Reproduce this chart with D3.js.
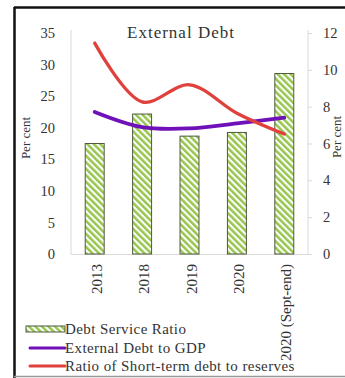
<!DOCTYPE html>
<html>
<head>
<meta charset="utf-8">
<script src="https://cdn.jsdelivr.net/npm/d3@7"></script>
<style>
  html, body { margin: 0; padding: 0; background: #fff; }
  svg { display: block; }
  text { font-family: "Liberation Serif", "Times New Roman", serif; fill: #333; }
</style>
</head>
<body>
<svg id="chart" width="345" height="378"></svg>
<script>
// Categories and series
const categories = ["2013", "2018", "2019", "2020", "2020 (Sept-end)"];
const debtServiceRatio = [6.0, 7.6, 6.4, 6.6, 9.8];        // bars, right axis
const externalDebtToGDP = [22.5, 20.1, 19.9, 20.7, 21.6];  // line, left axis
const shortTermToReserves = [33.4, 24.1, 26.8, 22.3, 19.0]; // line, left axis
const leftTicks = [0, 5, 10, 15, 20, 25, 30, 35];
const rightTicks = [0, 2, 4, 6, 8, 10, 12];

const svg = d3.select("#chart");
const W = 345, H = 378;

// Frame around the figure
svg.append("line").attr("x1", 14.5).attr("x2", 14.5).attr("y1", 7).attr("y2", H)
  .attr("stroke", "#111").attr("stroke-width", 2.5);
svg.append("line").attr("x1", 14).attr("x2", W).attr("y1", 7.5).attr("y2", 7.5)
  .attr("stroke", "#111").attr("stroke-width", 2.5);
svg.append("line").attr("x1", 14).attr("x2", W).attr("y1", 376.5).attr("y2", 376.5)
  .attr("stroke", "#999").attr("stroke-width", 1.5);

const plot = { left: 71, right: 308, top: 33, bottom: 254 };

const x = d3.scaleBand().domain(categories).range([plot.left, plot.right]).paddingInner(0.6).paddingOuter(0.3);
const yL = d3.scaleLinear().domain([0, 35]).range([plot.bottom, plot.top]);
const yR = d3.scaleLinear().domain([0, 12]).range([plot.bottom, plot.top]);

// Diagonal hatch for the bars
const defs = svg.append("defs");
const pat = defs.append("pattern").attr("id", "hatch")
  .attr("patternUnits", "userSpaceOnUse").attr("width", 4.6).attr("height", 4.6)
  .attr("patternTransform", "rotate(-45)");
pat.append("rect").attr("width", 4.6).attr("height", 4.6).attr("fill", "#fff");
pat.append("rect").attr("width", 2.5).attr("height", 4.6).attr("fill", "#97c54e");

// Axis lines
const axisColor = "#d9d9d9";
svg.append("line").attr("x1", plot.left).attr("x2", plot.left).attr("y1", plot.top - 3).attr("y2", plot.bottom)
  .attr("stroke", axisColor);
svg.append("line").attr("x1", plot.right).attr("x2", plot.right).attr("y1", plot.top - 3).attr("y2", plot.bottom)
  .attr("stroke", axisColor);
svg.append("line").attr("x1", plot.left).attr("x2", plot.right).attr("y1", plot.bottom + 0.5).attr("y2", plot.bottom + 0.5)
  .attr("stroke", axisColor);

const tickFont = "14.5px";

// Left axis
const gL = svg.append("g").attr("transform", `translate(${plot.left},0)`)
  .call(d3.axisLeft(yL).tickValues(leftTicks).tickSize(0).tickPadding(16));
gL.select(".domain").remove();
gL.selectAll("text").style("font-family", "Liberation Serif, serif").style("font-size", tickFont).attr("fill", "#333");

// Right axis
const gR = svg.append("g").attr("transform", `translate(${plot.right},0)`)
  .call(d3.axisRight(yR).tickValues(rightTicks).tickSize(4).tickPadding(11));
gR.select(".domain").remove();
gR.selectAll("line").attr("stroke", axisColor);
gR.selectAll("text").style("font-family", "Liberation Serif, serif").style("font-size", tickFont).attr("fill", "#333");

// Axis titles
svg.append("text").attr("transform", "translate(30,138) rotate(-90)")
  .attr("text-anchor", "middle").style("font-size", "13px").text("Per cent");
svg.append("text").attr("transform", "translate(341,137) rotate(-90)")
  .attr("text-anchor", "middle").style("font-size", "13px").text("Per cent");

// Title
svg.append("text").attr("x", 181).attr("y", 38).attr("text-anchor", "middle")
  .style("font-size", "17px").style("letter-spacing", "1px").text("External Debt");

// Bars
svg.append("g").selectAll("rect").data(debtServiceRatio).join("rect")
  .attr("x", (d, i) => x(categories[i]))
  .attr("y", d => yR(d))
  .attr("width", x.bandwidth())
  .attr("height", d => yR(0) - yR(d))
  .attr("fill", "url(#hatch)")
  .attr("stroke", "#4d5a40").attr("stroke-width", 1);

// Lines
const cx = i => x(categories[i]) + x.bandwidth() / 2;
const line = d3.line().x((d, i) => cx(i)).y(d => yL(d)).curve(d3.curveCatmullRom.alpha(0.5));
svg.append("path").datum(externalDebtToGDP).attr("d", line)
  .attr("fill", "none").attr("stroke", "#7010b8").attr("stroke-width", 3.8).attr("stroke-linecap", "round");
svg.append("path").datum(shortTermToReserves).attr("d", line)
  .attr("fill", "none").attr("stroke", "#e0413c").attr("stroke-width", 3.3).attr("stroke-linecap", "round");

// Category labels, rotated
svg.append("g").selectAll("text").data(categories).join("text")
  .attr("transform", (d, i) => `translate(${cx(i) + 7},${plot.bottom + 10}) rotate(-90)`)
  .attr("text-anchor", "end")
  .style("font-size", "15px")
  .text(d => d);

// Legend
const legend = svg.append("g");
const legendItems = [
  { label: "Debt Service Ratio", type: "bar", y: 329 },
  { label: "External Debt to GDP", type: "line", color: "#7010b8", y: 348 },
  { label: "Ratio of Short-term debt to reserves", type: "line", color: "#e0413c", y: 366 }
];
legendItems.forEach(it => {
  if (it.type === "bar") {
    legend.append("rect").attr("x", 26).attr("y", it.y - 3).attr("width", 39).attr("height", 6)
      .attr("fill", "url(#hatch)").attr("stroke", "#4d5a40").attr("stroke-width", 1);
  } else {
    legend.append("line").attr("x1", 30).attr("x2", 65).attr("y1", it.y).attr("y2", it.y)
      .attr("stroke", it.color).attr("stroke-width", 3).attr("stroke-linecap", "round");
  }
  legend.append("text").attr("x", 65).attr("y", it.y + 4.5)
    .style("font-size", "15px").style("letter-spacing", "0.4px").text(it.label);
});
</script>
</body>
</html>
